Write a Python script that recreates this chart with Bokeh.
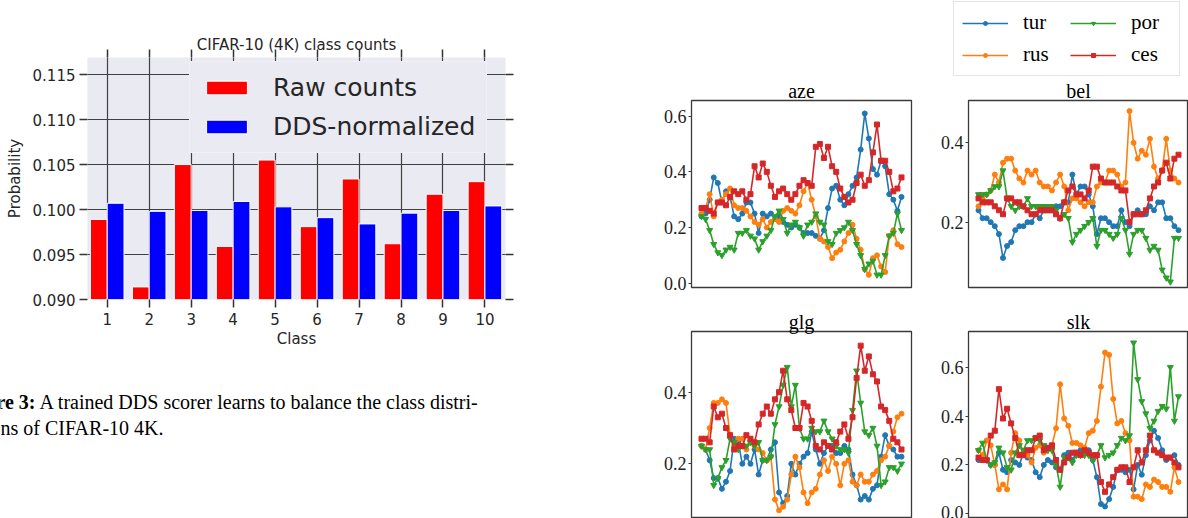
from bokeh.plotting import figure
from bokeh.layouts import row, column
from bokeh.models import (Range1d, FixedTicker, NumeralTickFormatter, LinearAxis,
                          Legend, LegendItem, ColumnDataSource, CustomJSTickFormatter)
from bokeh.transform import dodge
from bokeh.core.properties import value
from bokeh.embed import file_html
from bokeh.resources import INLINE

# ---------------- data: bar chart ----------------
classes = [1, 2, 3, 4, 5, 6, 7, 8, 9, 10]
raw_counts = [0.0989, 0.0914, 0.1050, 0.0959, 0.1055, 0.0981, 0.1034, 0.0962, 0.1017, 0.1031]
dds_normalized = [0.1007, 0.0998, 0.0999, 0.1009, 0.1003, 0.0991, 0.0984, 0.0996, 0.0999, 0.1004]
bar_yticks = [0.090, 0.095, 0.100, 0.105, 0.110, 0.115]

# ---------------- data: language panels ----------------
steps = list(range(50))
series_order = ["tur", "rus", "por", "ces"]

aze_tur = [0.24,0.25,0.30,0.38,0.36,0.29,0.33,0.31,0.24,0.23, 0.25,0.29,0.29,0.25,0.18,0.25,0.24,0.25,0.23,0.24,
           0.22,0.21,0.20,0.21,0.20,0.18,0.18,0.18,0.17,0.16, 0.19,0.27,0.34,0.35,0.30,0.28,0.32,0.35,0.38,0.48,
           0.61,0.52,0.41,0.39,0.44,0.42,0.32,0.30,0.26,0.31]
aze_rus = [0.25,0.27,0.32,0.24,0.29,0.30,0.32,0.34,0.28,0.27, 0.27,0.26,0.24,0.22,0.21,0.23,0.20,0.22,0.23,0.22,
           0.26,0.27,0.26,0.25,0.28,0.33,0.36,0.30,0.24,0.16, 0.15,0.13,0.09,0.11,0.12,0.15,0.18,0.21,0.16,0.12,
           0.05,0.03,0.09,0.10,0.06,0.04,0.17,0.19,0.14,0.13]
aze_por = [0.24,0.23,0.19,0.14,0.11,0.10,0.12,0.13,0.12,0.18, 0.18,0.19,0.17,0.16,0.12,0.15,0.17,0.19,0.24,0.26,
           0.23,0.18,0.21,0.22,0.20,0.17,0.21,0.22,0.25,0.22, 0.21,0.15,0.14,0.18,0.19,0.20,0.22,0.19,0.14,0.10,
           0.05,0.07,0.08,0.03,0.03,0.10,0.17,0.18,0.25,0.19]
aze_ces = [0.27,0.27,0.26,0.25,0.29,0.29,0.28,0.31,0.33,0.32, 0.33,0.30,0.32,0.42,0.38,0.43,0.40,0.35,0.31,0.33,
           0.34,0.32,0.30,0.32,0.35,0.37,0.36,0.35,0.49,0.50, 0.45,0.49,0.42,0.40,0.34,0.31,0.29,0.30,0.36,0.39,
           0.35,0.37,0.47,0.57,0.44,0.44,0.40,0.33,0.34,0.38]

bel_tur = [0.23,0.21,0.21,0.20,0.19,0.17,0.11,0.14,0.15,0.18, 0.19,0.19,0.20,0.20,0.22,0.21,0.23,0.23,0.23,0.24,
           0.24,0.25,0.25,0.32,0.27,0.29,0.29,0.27,0.24,0.17, 0.21,0.21,0.20,0.19,0.19,0.23,0.20,0.19,0.22,0.23,
           0.22,0.22,0.24,0.23,0.25,0.25,0.21,0.21,0.19,0.18]
bel_rus = [0.24,0.26,0.27,0.28,0.32,0.30,0.35,0.36,0.36,0.33, 0.31,0.30,0.33,0.32,0.33,0.30,0.29,0.29,0.28,0.30,
           0.32,0.29,0.23,0.26,0.26,0.25,0.24,0.25,0.25,0.29, 0.30,0.30,0.33,0.33,0.32,0.29,0.30,0.48,0.40,0.36,
           0.38,0.37,0.41,0.34,0.31,0.33,0.41,0.33,0.31,0.30]
bel_por = [0.27,0.27,0.27,0.28,0.29,0.29,0.33,0.26,0.24,0.23, 0.24,0.24,0.26,0.24,0.24,0.24,0.24,0.24,0.24,0.23,
           0.21,0.22,0.21,0.15,0.17,0.18,0.19,0.20,0.21,0.14, 0.18,0.18,0.17,0.16,0.17,0.21,0.18,0.12,0.17,0.18,
           0.18,0.16,0.13,0.14,0.13,0.08,0.06,0.05,0.16,0.16]
bel_ces = [0.26,0.25,0.25,0.25,0.24,0.23,0.22,0.26,0.26,0.25, 0.25,0.24,0.23,0.22,0.22,0.23,0.23,0.23,0.23,0.22,
           0.21,0.25,0.28,0.29,0.27,0.27,0.26,0.28,0.34,0.34, 0.31,0.30,0.30,0.30,0.29,0.28,0.28,0.20,0.22,0.22,
           0.22,0.23,0.26,0.29,0.30,0.33,0.35,0.31,0.36,0.37]

glg_tur = [0.25,0.24,0.21,0.16,0.16,0.13,0.15,0.18,0.27,0.26, 0.20,0.22,0.20,0.24,0.17,0.21,0.21,0.24,0.26,0.12,
           0.09,0.11,0.20,0.17,0.20,0.22,0.23,0.29,0.24,0.20, 0.23,0.25,0.25,0.23,0.23,0.25,0.24,0.17,0.14,0.10,
           0.11,0.10,0.13,0.14,0.22,0.28,0.25,0.24,0.22,0.22]
glg_rus = [0.25,0.24,0.30,0.37,0.37,0.38,0.37,0.28,0.25,0.27, 0.27,0.24,0.26,0.25,0.24,0.23,0.21,0.22,0.10,0.07,
           0.08,0.10,0.17,0.22,0.19,0.12,0.09,0.12,0.13,0.17, 0.21,0.18,0.22,0.20,0.14,0.20,0.21,0.15,0.14,0.17,
           0.15,0.15,0.17,0.18,0.21,0.22,0.25,0.29,0.33,0.34]
glg_por = [0.25,0.24,0.24,0.14,0.16,0.19,0.21,0.27,0.26,0.24, 0.25,0.25,0.26,0.25,0.26,0.21,0.21,0.22,0.31,0.36,
           0.42,0.47,0.36,0.42,0.30,0.27,0.27,0.30,0.29,0.29, 0.32,0.29,0.27,0.25,0.24,0.24,0.23,0.35,0.46,0.37,
           0.29,0.28,0.30,0.25,0.14,0.15,0.19,0.19,0.18,0.20]
glg_ces = [0.27,0.27,0.26,0.36,0.33,0.34,0.30,0.28,0.24,0.25, 0.25,0.28,0.27,0.26,0.31,0.34,0.36,0.34,0.38,0.40,
           0.46,0.38,0.35,0.30,0.30,0.37,0.36,0.32,0.25,0.24, 0.26,0.25,0.24,0.26,0.29,0.31,0.27,0.33,0.44,0.53,
           0.46,0.50,0.45,0.43,0.36,0.35,0.32,0.27,0.26,0.24]

slk_tur = [0.22,0.22,0.22,0.20,0.20,0.25,0.18,0.17,0.22,0.21, 0.20,0.25,0.23,0.22,0.17,0.15,0.20,0.22,0.21,0.19,
           0.18,0.24,0.25,0.22,0.25,0.26,0.26,0.26,0.22,0.15, 0.04,0.03,0.06,0.11,0.18,0.18,0.17,0.18,0.10,0.20,
           0.16,0.24,0.30,0.34,0.31,0.26,0.22,0.23,0.24,0.20]
slk_rus = [0.26,0.24,0.30,0.28,0.20,0.10,0.12,0.10,0.25,0.33, 0.30,0.25,0.24,0.21,0.27,0.28,0.25,0.27,0.28,0.35,
           0.53,0.39,0.36,0.29,0.29,0.28,0.27,0.33,0.34,0.38, 0.52,0.66,0.65,0.47,0.37,0.38,0.33,0.30,0.07,0.07,
           0.06,0.12,0.11,0.14,0.13,0.11,0.11,0.09,0.19,0.13]
slk_por = [0.26,0.29,0.22,0.20,0.21,0.27,0.25,0.19,0.18,0.25, 0.28,0.26,0.30,0.30,0.31,0.30,0.28,0.26,0.26,0.20,
           0.11,0.23,0.23,0.21,0.24,0.24,0.24,0.24,0.22,0.24, 0.28,0.23,0.24,0.25,0.28,0.31,0.30,0.32,0.70,0.55,
           0.46,0.41,0.35,0.38,0.42,0.44,0.43,0.60,0.38,0.48]
slk_ces = [0.23,0.22,0.22,0.32,0.34,0.51,0.39,0.43,0.37,0.31, 0.24,0.24,0.26,0.26,0.31,0.32,0.26,0.27,0.28,0.22,
           0.18,0.21,0.23,0.25,0.25,0.24,0.26,0.25,0.24,0.24, 0.13,0.09,0.12,0.15,0.18,0.19,0.19,0.13,0.19,0.26,
           0.21,0.26,0.32,0.26,0.25,0.24,0.23,0.23,0.21,0.19]

panel_data = {
    "aze": {"tur": aze_tur, "rus": aze_rus, "por": aze_por, "ces": aze_ces},
    "bel": {"tur": bel_tur, "rus": bel_rus, "por": bel_por, "ces": bel_ces},
    "glg": {"tur": glg_tur, "rus": glg_rus, "por": glg_por, "ces": glg_ces},
    "slk": {"tur": slk_tur, "rus": slk_rus, "por": slk_por, "ces": slk_ces},
}

caption_bold = "Figure 3:"
caption_line1 = "A trained DDS scorer learns to balance the class distri-"
caption_line2 = "butions of CIFAR-10 4K."

# ---------------- bar chart ----------------
TXT = "#262626"
TICK = "#333333"

bar = figure(width=600, height=360, x_range=Range1d(0.53, 10.49), y_range=Range1d(0.090, 0.1169),
             output_backend="svg", toolbar_location=None, frame_align=False,
             min_border_left=87, min_border_right=95, min_border_top=57, min_border_bottom=61,
             background_fill_color="#EAEAF2", border_fill_color="white", outline_line_color=None,
             title="CIFAR-10 (4K) class counts")
src = ColumnDataSource(dict(cls=classes, raw=raw_counts, dds=dds_normalized))
r_raw = bar.vbar(x=dodge("cls", -0.2, range=bar.x_range), top="raw", width=0.4, source=src,
                 fill_color="#FF0000", line_color="white", line_width=1)
r_dds = bar.vbar(x=dodge("cls", 0.2, range=bar.x_range), top="dds", width=0.4, source=src,
                 fill_color="#0000FF", line_color="white", line_width=1)

bar.xaxis.ticker = FixedTicker(ticks=classes)
bar.yaxis.ticker = FixedTicker(ticks=bar_yticks)
bar.yaxis.formatter = NumeralTickFormatter(format="0.000")
for ax in [bar.xaxis[0], bar.yaxis[0]]:
    ax.axis_line_color = None
    ax.major_tick_out = 8
    ax.major_tick_in = 0
    ax.major_tick_line_color = TICK
    ax.major_tick_line_width = 1.5
    ax.minor_tick_line_color = None
    ax.major_label_text_font = "DejaVu Sans"
    ax.major_label_text_font_size = "15px"
    ax.major_label_text_color = TXT
    ax.axis_label_text_font = "DejaVu Sans"
    ax.axis_label_text_font_size = "15px"
    ax.axis_label_text_font_style = "normal"
    ax.axis_label_text_color = TXT
bar.xaxis.axis_label = "Class"
bar.yaxis.axis_label = "Probability"
bar.xaxis.major_label_standoff = 5
bar.xaxis.axis_label_standoff = 2
bar.yaxis.major_label_standoff = 4
bar.yaxis.axis_label_standoff = 6

top_ax = LinearAxis(ticker=FixedTicker(ticks=classes), formatter=CustomJSTickFormatter(code="return ''"),
                    axis_line_color=None, major_tick_out=8, major_tick_in=0, major_tick_line_color=TICK,
                    major_tick_line_width=1.5, minor_tick_line_color=None, major_label_standoff=0)
right_ax = LinearAxis(ticker=FixedTicker(ticks=bar_yticks), formatter=CustomJSTickFormatter(code="return ''"),
                      axis_line_color=None, major_tick_out=8, major_tick_in=0, major_tick_line_color=TICK,
                      major_tick_line_width=1.5, minor_tick_line_color=None, major_label_standoff=0)
bar.add_layout(top_ax, "above")
bar.add_layout(right_ax, "right")

bar.grid.grid_line_color = "#404040"
bar.grid.grid_line_width = 1.2

bar.title.align = "center"
bar.title.text_font = "DejaVu Sans"
bar.title.text_font_size = "15px"
bar.title.text_font_style = "normal"
bar.title.text_color = TXT
bar.title.standoff = -9

bar_leg = Legend(items=[LegendItem(label="Raw counts", renderers=[r_raw]),
                        LegendItem(label="DDS-normalized", renderers=[r_dds])],
                 location=(102, 146), glyph_width=51, glyph_height=17, label_standoff=21,
                 label_text_font="DejaVu Sans", label_text_font_size="25px", label_text_color=TXT,
                 label_height=28, padding=11, spacing=10, margin=0,
                 background_fill_color="#EAEAF2", background_fill_alpha=1.0,
                 border_line_color="#F6F6FA", border_line_width=1.5)
bar.add_layout(bar_leg)

# ---------------- caption ----------------
cap = figure(width=600, height=158, x_range=Range1d(0, 600), y_range=Range1d(518, 360),
             x_axis_type=None, y_axis_type=None, output_backend="svg", toolbar_location=None,
             frame_align=False, min_border_left=0, min_border_right=0, min_border_top=0,
             min_border_bottom=0, outline_line_color=None)
cap.grid.visible = False
SERIF = value("Liberation Serif")
cap.text(x=[35], y=[401], text=[caption_bold], text_align="right", text_baseline="alphabetic",
         text_font=SERIF, text_font_style="bold", text_font_size="20px", text_color="black")
cap.text(x=[39], y=[401], text=[caption_line1], text_align="left", text_baseline="alphabetic",
         text_font=SERIF, text_font_size="20px", text_color="black")
cap.text(x=[163], y=[427], text=[caption_line2], text_align="right", text_baseline="alphabetic",
         text_font=SERIF, text_font_size="20px", text_color="black")

# ---------------- language panels ----------------
styles = {
    "tur": ("#1f77b4", "circle", 5),
    "rus": ("#ff7f0e", "circle", 5),
    "por": ("#2ca02c", "inverted_triangle", 6),
    "ces": ("#d62728", "square", 5),
}


def panel(name, yr, yticks, w, h, ml, mr, mt, mb):
    p = figure(width=w, height=h, x_range=Range1d(-2.45, 51.45), y_range=Range1d(*yr), x_axis_type=None,
               output_backend="svg", toolbar_location=None, frame_align=False,
               min_border_left=ml, min_border_right=mr, min_border_top=mt, min_border_bottom=mb,
               background_fill_color="white", border_fill_color="white",
               outline_line_color="#3a3a3a", outline_line_width=1.3, title=name)
    p.grid.visible = False
    ax = p.yaxis[0]
    ax.ticker = FixedTicker(ticks=yticks)
    ax.formatter = NumeralTickFormatter(format="0.0")
    ax.axis_line_color = None
    ax.major_tick_out = 3
    ax.major_tick_in = 0
    ax.major_tick_line_color = "#3a3a3a"
    ax.minor_tick_line_color = None
    ax.major_label_text_font = "Liberation Serif"
    ax.major_label_text_font_size = "18px"
    ax.major_label_text_color = "#222222"
    ax.major_label_standoff = 2
    p.title.align = "center"
    p.title.text_font = "Liberation Serif"
    p.title.text_font_size = "20px"
    p.title.text_font_style = "normal"
    p.title.text_color = "black"
    p.title.standoff = -2
    for s in series_order:
        color, marker, size = styles[s]
        ys = panel_data[name][s]
        p.line(steps, ys, line_color=color, line_width=1.6)
        p.scatter(steps, ys, marker=marker, size=size, fill_color=color, line_color=color)
    return p


aze = panel("aze", (-0.0155, 0.6564), [0.0, 0.2, 0.4, 0.6], 336, 224, 91, 25, 24, 13)
bel = panel("bel", (0.0355, 0.5066), [0.2, 0.4], 252, 224, 32, 0, 24, 13)
glg = panel("glg", (0.05, 0.5696), [0.2, 0.4], 336, 218, 91, 25, 31, 1)
slk = panel("slk", (-0.0152, 0.746), [0.0, 0.2, 0.4, 0.6], 252, 218, 32, 0, 31, 1)

# legend strip above the panels (proxy renderers lie outside this strip's visible range)
lg = figure(width=588, height=76, x_range=Range1d(-200, -199), y_range=Range1d(0, 1),
            x_axis_type=None, y_axis_type=None, output_backend="svg", toolbar_location=None,
            frame_align=False, min_border_left=0, min_border_right=0, min_border_top=0,
            min_border_bottom=0, outline_line_color=None)
lg.grid.visible = False
items = []
for s in series_order:
    color, marker, size = styles[s]
    ys = panel_data["aze"][s]
    l = lg.line(steps, ys, line_color=color, line_width=1.6)
    m = lg.scatter(steps, ys, marker=marker, size=size, fill_color=color, line_color=color)
    items.append(LegendItem(label=s, renderers=[l, m]))
lang_leg = Legend(items=items, location=(353, 0), orientation="vertical", nrows=2,
                  glyph_width=46, glyph_height=10, label_standoff=15, label_width=40,
                  label_text_font="Liberation Serif", label_text_font_size="21px", label_text_color="black",
                  label_height=21, padding=8, spacing=7, margin=0,
                  background_fill_color="white", background_fill_alpha=1.0,
                  border_line_color="#cccccc", border_line_width=1)
lg.add_layout(lang_leg)

layout = row(column(bar, cap), column(lg, row(aze, bel), row(glg, slk)))

open("out.html", "w").write(file_html(layout, INLINE))
